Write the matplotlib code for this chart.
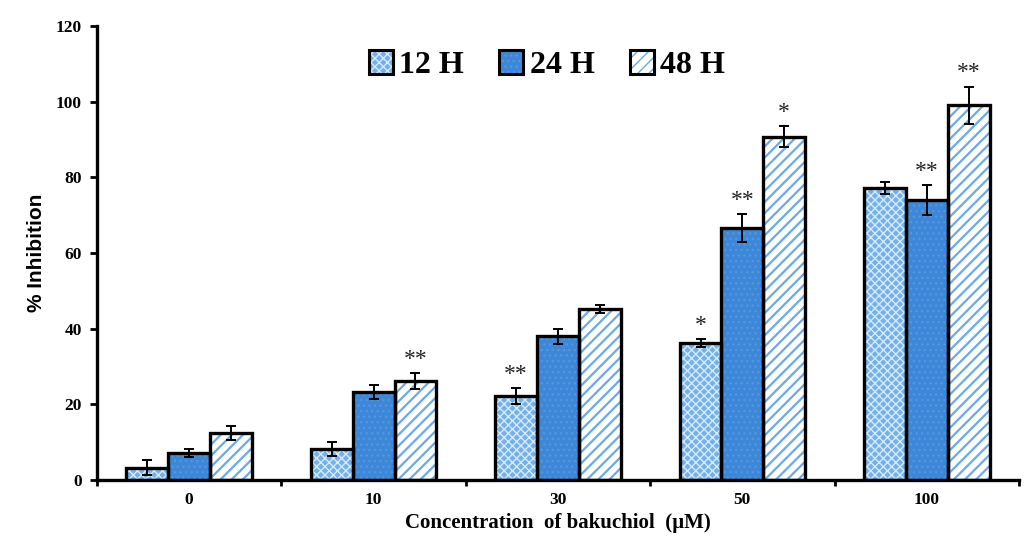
import matplotlib
matplotlib.use("Agg")
import matplotlib.pyplot as plt
import matplotlib.patches as mpatches
import numpy as np

categories = ["0", "10", "30", "50", "100"]
series = ["12 H", "24 H", "48 H"]
vals_12 = [3.2, 8.2, 22.2, 36.2, 77.2]
vals_24 = [7.1, 23.3, 38.0, 66.6, 74.0]
vals_48 = [12.4, 26.2, 45.2, 90.7, 99.0]
err_12 = [2.0, 1.8, 2.0, 1.0, 1.5]
err_24 = [1.0, 1.8, 2.0, 3.8, 4.0]
err_48 = [1.8, 2.2, 1.0, 2.8, 5.0]
sig_12 = ["", "", "**", "*", ""]
sig_24 = ["", "", "", "**", "**"]
sig_48 = ["", "**", "", "*", "**"]

plt.rcParams['font.family'] = ['Liberation Serif', 'DejaVu Serif']
plt.rcParams['font.weight'] = 'bold'

fig = plt.figure(figsize=(10.35, 5.46), dpi=100)
ax = fig.add_axes([0.0937, 0.1209, 0.8908, 0.8315])

x = np.arange(len(categories))
w = 0.227
styles = [
    dict(fc='#74b0ea', hatch='xxxx', hc='#d6ebfc', hlw=1.0),
    dict(fc='#3d87d8', hatch='...', hc='#5597df', hlw=1.0),
    dict(fc='white', hatch='///', hc='#6aaae8', hlw=1.6),
]
data = [(vals_12, err_12, sig_12), (vals_24, err_24, sig_24), (vals_48, err_48, sig_48)]
handles = []
for i, ((v, e, s), st) in enumerate(zip(data, styles)):
    pos = x + (i - 1) * w
    with plt.rc_context({'hatch.linewidth': st['hlw']}):
        ax.bar(pos, v, w, color=st['fc'], hatch=st['hatch'], edgecolor=st['hc'], linewidth=0, zorder=2)
        handles.append(mpatches.Patch(facecolor=st['fc'], hatch=st['hatch'], edgecolor=st['hc'], linewidth=0))
    ax.bar(pos, v, w, facecolor='none', edgecolor='black', linewidth=2.4, zorder=3)
    ax.errorbar(pos, v, yerr=e, fmt='none', ecolor='black', elinewidth=1.4, capsize=3.5, capthick=1.4, zorder=4)
    for p, vv, ee, ss in zip(pos, v, e, s):
        if ss:
            ax.text(p, vv + ee + 0.8, ss, ha='center', va='bottom', fontsize=17, fontweight='normal',
                    color='#222222', zorder=5)

ax.set_xlim(-0.5, len(categories) - 0.5)
ax.set_ylim(0, 120)
ax.set_yticks(np.arange(0, 121, 20))
ax.set_xticks(x)
ax.set_xticklabels(categories)
ax.set_xticks(np.arange(-0.5, len(categories), 1.0), minor=True)
ax.tick_params(axis='x', which='major', length=0, pad=9, labelsize=12.5)
ax.tick_params(axis='x', which='minor', length=4, width=2, direction='out')
ax.tick_params(axis='y', which='major', length=5, width=2, direction='out', labelsize=12.5, pad=6)
for sp in ['top', 'right']:
    ax.spines[sp].set_visible(False)
for sp in ['left', 'bottom']:
    ax.spines[sp].set_linewidth(2.4)

ax.set_xlabel("Concentration  of bakuchiol  (\u00b5M)", fontsize=15, fontweight='bold', labelpad=3)
ax.set_ylabel("% Inhibition", fontsize=15, fontweight='bold', labelpad=7,
              family=['Liberation Sans', 'DejaVu Sans'])

leg = ax.legend(handles, series, loc='center', bbox_to_anchor=(0.488, 0.914), ncol=3, frameon=False,
                handlelength=0.75, handleheight=0.75, handletextpad=0.2, columnspacing=1.1,
                prop={'weight': 'bold', 'size': 23})
fig.canvas.draw()
inv = fig.transFigure.inverted()
for h in leg.legend_handles:
    bb = h.get_window_extent()
    (x0, y0), (x1, y1) = inv.transform([[bb.x0, bb.y0], [bb.x1, bb.y1]])
    fig.patches.append(mpatches.Rectangle((x0, y0), x1 - x0, y1 - y0, transform=fig.transFigure,
                                          facecolor='none', edgecolor='black', linewidth=2.2, zorder=10))

fig.savefig("out.png", dpi=100)
